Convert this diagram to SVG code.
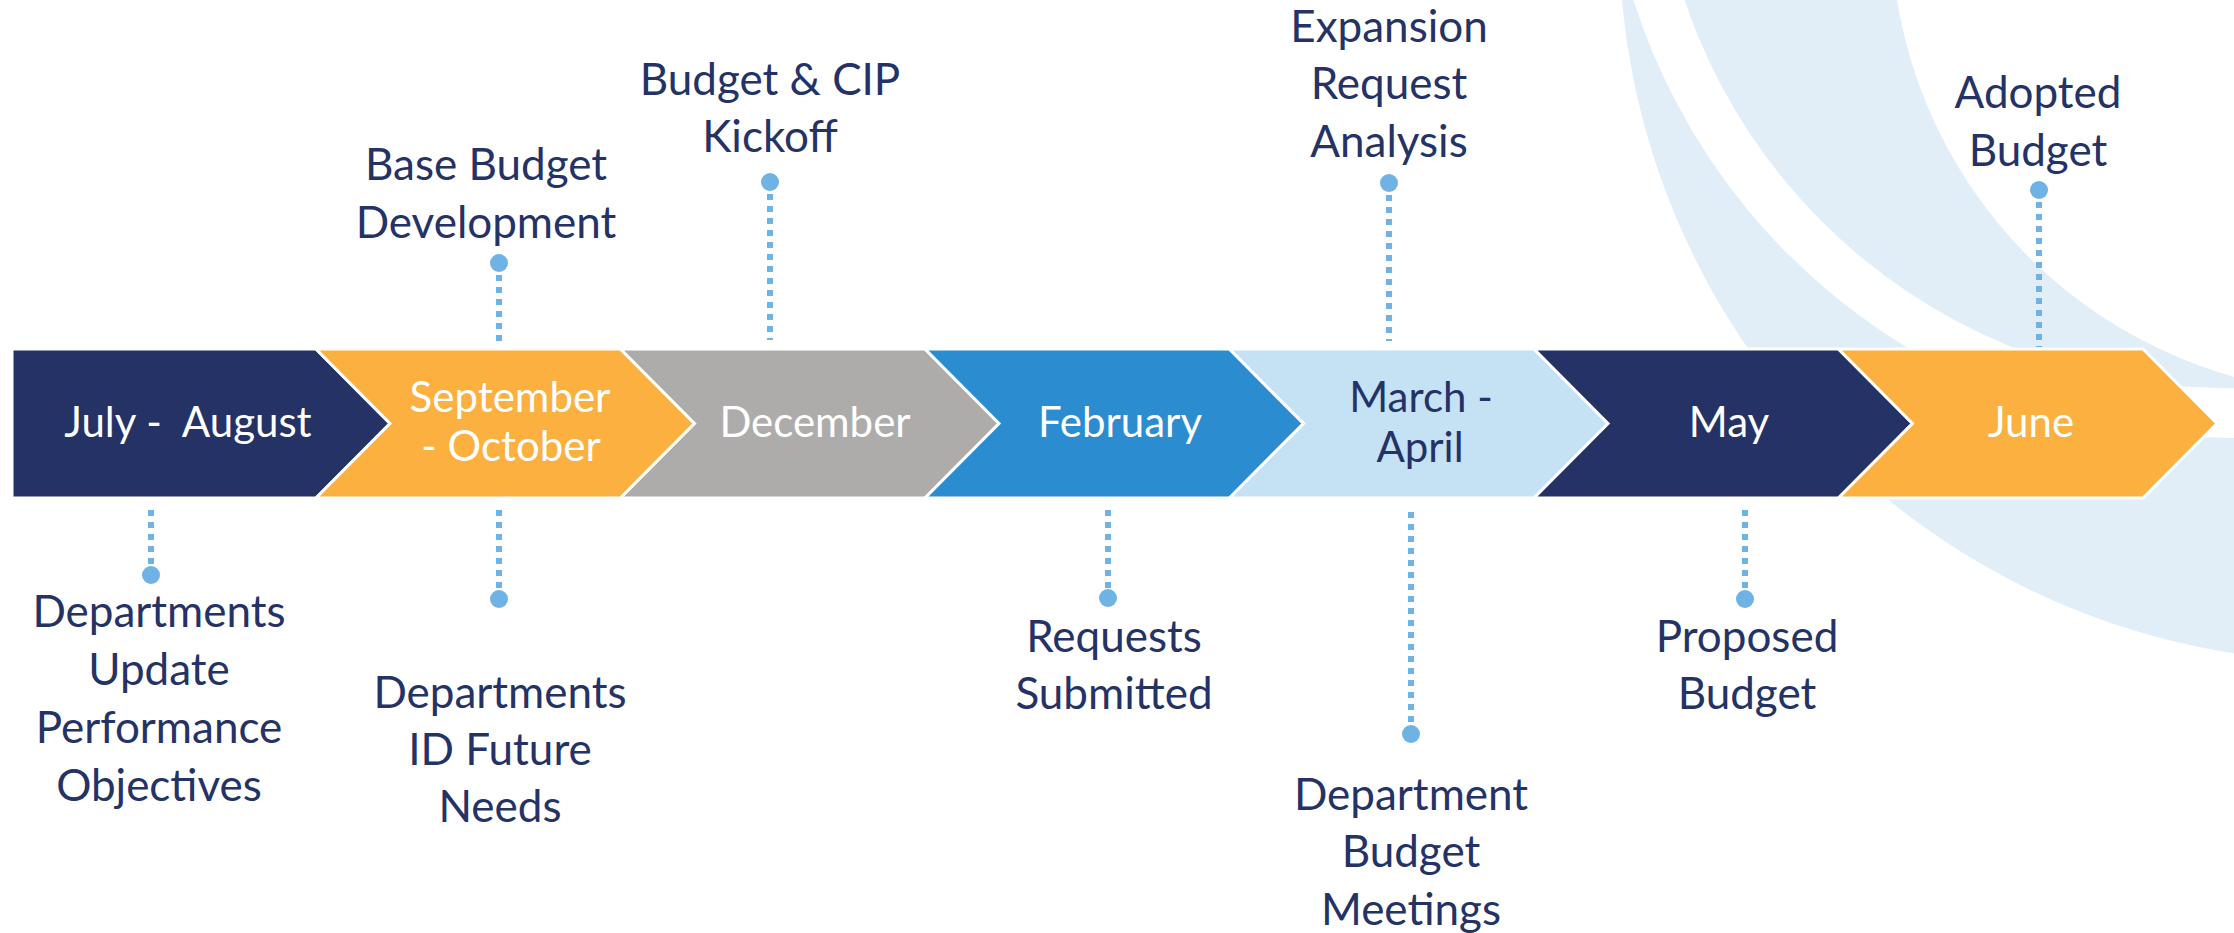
<svg xmlns="http://www.w3.org/2000/svg" width="2234" height="933" viewBox="0 0 2234 933">
<style>
.bg{fill:#E1EEF8;fill-rule:evenodd}
.chev{stroke:#FFFFFF;stroke-width:3;stroke-linejoin:miter}
.navy{fill:#243266}
.orange{fill:#FBB040}
.gray{fill:#ADACAA}
.blue{fill:#2B8CD0}
.lblue{fill:#C5E1F4}
.bt{font-family:Lato,"Liberation Sans",sans-serif;font-size:42px;fill:#FFFFFF;text-anchor:middle}
.bt.dark{fill:#243266}
.lbl{font-family:Lato,"Liberation Sans",sans-serif;font-size:44px;fill:#243266;text-anchor:middle}
.conn{stroke:#6FB3E5;stroke-width:6;stroke-dasharray:6 6;fill:none}
.dot{fill:#6FB3E5}
</style>
<g id="background">
<path class="bg" d="M 2346,-65 m -727,0 a 727,727 0 1,0 1454,0 a 727,727 0 1,0 -1454,0 Z M 2232,-190 m -628,0 a 628,628 0 1,0 1256,0 a 628,628 0 1,0 -1256,0 Z"/>
<path class="bg" d="M 2224,-181 m -569,0 a 569,569 0 1,0 1138,0 a 569,569 0 1,0 -1138,0 Z M 2360,-75 m -469,0 a 469,469 0 1,0 938,0 a 469,469 0 1,0 -938,0 Z"/>
</g>
<g id="connectors">
<line class="conn" x1="499" y1="263" x2="499" y2="347"/>
<circle class="dot" cx="499" cy="263" r="9"/>
<line class="conn" x1="770" y1="182" x2="770" y2="340"/>
<circle class="dot" cx="770" cy="182" r="9"/>
<line class="conn" x1="1389" y1="183" x2="1389" y2="341"/>
<circle class="dot" cx="1389" cy="183" r="9"/>
<line class="conn" x1="2039" y1="190" x2="2039" y2="347"/>
<circle class="dot" cx="2039" cy="190" r="9"/>
<line class="conn" x1="151" y1="510" x2="151" y2="575"/>
<circle class="dot" cx="151" cy="575" r="9"/>
<line class="conn" x1="499" y1="510" x2="499" y2="599"/>
<circle class="dot" cx="499" cy="599" r="9"/>
<line class="conn" x1="1108" y1="510" x2="1108" y2="598"/>
<circle class="dot" cx="1108" cy="598" r="9"/>
<line class="conn" x1="1411" y1="512" x2="1411" y2="734"/>
<circle class="dot" cx="1411" cy="734" r="9"/>
<line class="conn" x1="1745" y1="510" x2="1745" y2="599"/>
<circle class="dot" cx="1745" cy="599" r="9"/>
</g>
<g id="phase-jul-aug">
<polygon class="chev navy" points="12,349 316,349 390,423.5 316,498 12,498"/>
<text class="bt" x="188" y="437" xml:space="preserve">July -  August</text>
</g>
<g id="phase-sep-oct">
<polygon class="chev orange" points="316,349 620.5,349 694.5,423.5 620.5,498 316,498 390,423.5"/>
<text class="bt" x="510" y="412">September</text>
<text class="bt" x="511" y="461">- October</text>
</g>
<g id="phase-dec">
<polygon class="chev gray" points="620.5,349 925,349 999,423.5 925,498 620.5,498 694.5,423.5"/>
<text class="bt" x="815" y="437">December</text>
</g>
<g id="phase-feb">
<polygon class="chev blue" points="925,349 1229.5,349 1303.5,423.5 1229.5,498 925,498 999,423.5"/>
<text class="bt" x="1120" y="437">February</text>
</g>
<g id="phase-mar-apr">
<polygon class="chev lblue" points="1229.5,349 1534,349 1608,423.5 1534,498 1229.5,498 1303.5,423.5"/>
<text class="bt dark" x="1421" y="412">March -</text>
<text class="bt dark" x="1420" y="462">April</text>
</g>
<g id="phase-may">
<polygon class="chev navy" points="1534,349 1838.5,349 1912.5,423.5 1838.5,498 1534,498 1608,423.5"/>
<text class="bt" x="1729" y="437">May</text>
</g>
<g id="phase-jun">
<polygon class="chev orange" points="1838.5,349 2143,349 2217,423.5 2143,498 1838.5,498 1912.5,423.5"/>
<text class="bt" x="2031" y="437">June</text>
</g>
<g id="label-base-budget">
<text class="lbl" x="486" y="180">Base Budget</text>
<text class="lbl" x="486" y="238">Development</text>
</g>
<g id="label-kickoff">
<text class="lbl" x="770" y="95">Budget &amp; CIP</text>
<text class="lbl" x="770" y="152">Kickoff</text>
</g>
<g id="label-expansion">
<text class="lbl" x="1389" y="42">Expansion</text>
<text class="lbl" x="1389" y="99">Request</text>
<text class="lbl" x="1389" y="157">Analysis</text>
</g>
<g id="label-adopted">
<text class="lbl" x="2038" y="108">Adopted</text>
<text class="lbl" x="2038" y="166">Budget</text>
</g>
<g id="label-performance">
<text class="lbl" x="159" y="627">Departments</text>
<text class="lbl" x="159" y="685">Update</text>
<text class="lbl" x="159" y="743">Performance</text>
<text class="lbl" x="159" y="801">Objectives</text>
</g>
<g id="label-future-needs">
<text class="lbl" x="500" y="708">Departments</text>
<text class="lbl" x="500" y="765">ID Future</text>
<text class="lbl" x="500" y="822">Needs</text>
</g>
<g id="label-requests">
<text class="lbl" x="1114" y="652">Requests</text>
<text class="lbl" x="1114" y="709">Submitted</text>
</g>
<g id="label-dept-meetings">
<text class="lbl" x="1411" y="810">Department</text>
<text class="lbl" x="1411" y="867">Budget</text>
<text class="lbl" x="1411" y="925">Meetings</text>
</g>
<g id="label-proposed">
<text class="lbl" x="1747" y="652">Proposed</text>
<text class="lbl" x="1747" y="709">Budget</text>
</g>
</svg>
